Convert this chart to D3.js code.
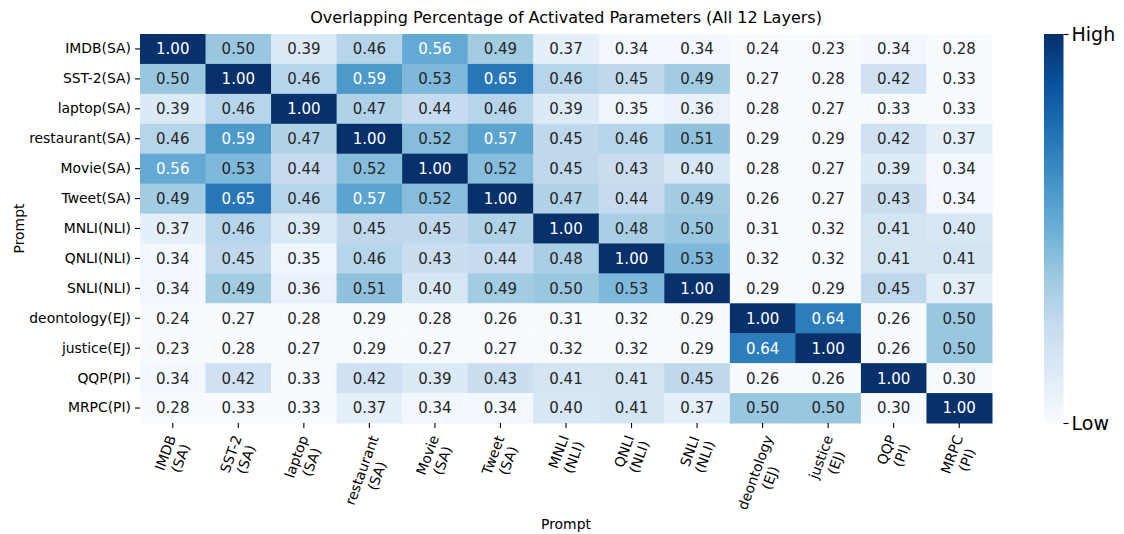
<!DOCTYPE html>
<html>
<head>
<meta charset="utf-8">
<script src="https://cdn.jsdelivr.net/npm/d3@7"></script>
<style>
body { margin: 0; background: #fff; }
text { font-family: "DejaVu Sans", sans-serif; }
</style>
</head>
<body>
<div id="chart"></div>
<script>
// prompts, rows = columns
var rowLabels = ["IMDB(SA)", "SST-2(SA)", "laptop(SA)", "restaurant(SA)", "Movie(SA)", "Tweet(SA)",
	"MNLI(NLI)", "QNLI(NLI)", "SNLI(NLI)", "deontology(EJ)", "justice(EJ)", "QQP(PI)", "MRPC(PI)"];
var colLabels = [["IMDB", "(SA)"], ["SST-2", "(SA)"], ["laptop", "(SA)"], ["restaurant", "(SA)"],
	["Movie", "(SA)"], ["Tweet", "(SA)"], ["MNLI", "(NLI)"], ["QNLI", "(NLI)"], ["SNLI", "(NLI)"],
	["deontology", "(EJ)"], ["justice", "(EJ)"], ["QQP", "(PI)"], ["MRPC", "(PI)"]];

var overlap = [
	[1.00, 0.50, 0.39, 0.46, 0.56, 0.49, 0.37, 0.34, 0.34, 0.24, 0.23, 0.34, 0.28],
	[0.50, 1.00, 0.46, 0.59, 0.53, 0.65, 0.46, 0.45, 0.49, 0.27, 0.28, 0.42, 0.33],
	[0.39, 0.46, 1.00, 0.47, 0.44, 0.46, 0.39, 0.35, 0.36, 0.28, 0.27, 0.33, 0.33],
	[0.46, 0.59, 0.47, 1.00, 0.52, 0.57, 0.45, 0.46, 0.51, 0.29, 0.29, 0.42, 0.37],
	[0.56, 0.53, 0.44, 0.52, 1.00, 0.52, 0.45, 0.43, 0.40, 0.28, 0.27, 0.39, 0.34],
	[0.49, 0.65, 0.46, 0.57, 0.52, 1.00, 0.47, 0.44, 0.49, 0.26, 0.27, 0.43, 0.34],
	[0.37, 0.46, 0.39, 0.45, 0.45, 0.47, 1.00, 0.48, 0.50, 0.31, 0.32, 0.41, 0.40],
	[0.34, 0.45, 0.35, 0.46, 0.43, 0.44, 0.48, 1.00, 0.53, 0.32, 0.32, 0.41, 0.41],
	[0.34, 0.49, 0.36, 0.51, 0.40, 0.49, 0.50, 0.53, 1.00, 0.29, 0.29, 0.45, 0.37],
	[0.24, 0.27, 0.28, 0.29, 0.28, 0.26, 0.31, 0.32, 0.29, 1.00, 0.64, 0.26, 0.50],
	[0.23, 0.28, 0.27, 0.29, 0.27, 0.27, 0.32, 0.32, 0.29, 0.64, 1.00, 0.26, 0.50],
	[0.34, 0.42, 0.33, 0.42, 0.39, 0.43, 0.41, 0.41, 0.45, 0.26, 0.26, 1.00, 0.30],
	[0.28, 0.33, 0.33, 0.37, 0.34, 0.34, 0.40, 0.41, 0.37, 0.50, 0.50, 0.30, 1.00]
];

var barLabels = ["Low", "High"];

(function() {
	var width = 1124;
	var height = 534;
	var left = 140, top = 34, right = 992, bottom = 423;

	var blues = ["#f7fbff", "#deebf7", "#c6dbef", "#9ecae1", "#6baed6", "#4292c6", "#2171b5", "#08519c", "#08306b"];
	var vmin = 0.33, vmax = 0.77;

	var color = d3.scaleLinear()
				  .domain(blues.map(function(c, i) { return vmin + (vmax - vmin) * i / (blues.length - 1); }))
				  .range(blues)
				  .interpolate(d3.interpolateRgb)
				  .clamp(true);

	var svg = d3.select("#chart")
				.append("svg")
				.attr("width", width)
				.attr("height", height);

	var x = d3.scaleBand()
			  .domain(d3.range(colLabels.length))
			  .range([left, right]);

	var y = d3.scaleBand()
			  .domain(rowLabels)
			  .range([top, bottom]);

	var cells = [];
	overlap.forEach(function(row, i) {
		row.forEach(function(v, j) {
			cells.push({ r: rowLabels[i], c: j, v: v });
		});
	});

	function luminance(c) {
		var rgb = d3.rgb(c);
		var lin = [rgb.r, rgb.g, rgb.b].map(function(u) {
			u = u / 255;
			return u <= 0.03928 ? u / 12.92 : Math.pow((u + 0.055) / 1.055, 2.4);
		});
		return 0.2126 * lin[0] + 0.7152 * lin[1] + 0.0722 * lin[2];
	}

	var g = svg.append("g");

	g.selectAll("rect")
	 .data(cells)
	 .enter()
	 .append("rect")
	 .attr("x", function(d) { return x(d.c); })
	 .attr("y", function(d) { return y(d.r); })
	 .attr("width", x.bandwidth() + 0.5)
	 .attr("height", y.bandwidth() + 0.5)
	 .attr("fill", function(d) { return color(d.v); });

	g.selectAll("text.val")
	 .data(cells)
	 .enter()
	 .append("text")
	 .attr("class", "val")
	 .attr("x", function(d) { return x(d.c) + x.bandwidth() / 2; })
	 .attr("y", function(d) { return y(d.r) + y.bandwidth() / 2; })
	 .attr("dy", "0.36em")
	 .attr("text-anchor", "middle")
	 .style("font-size", "15px")
	 .attr("fill", function(d) { return luminance(color(d.v)) > 0.408 ? "#262626" : "#ffffff"; })
	 .text(function(d) { return d.v.toFixed(2); });

	// y axis
	var yAxis = d3.axisLeft(y).tickSize(5).tickPadding(4);
	var ya = svg.append("g")
				.attr("transform", "translate(" + left + ",0)")
				.call(yAxis);
	ya.select(".domain").remove();
	ya.selectAll("line").attr("stroke", "#000").attr("stroke-width", 1.1);
	ya.selectAll("text")
	  .style("font-size", "13.9px")
	  .style("font-family", "DejaVu Sans")
	  .attr("fill", "#000");

	// x axis
	var xAxis = d3.axisBottom(x).tickSize(5).tickFormat("");
	var xa = svg.append("g")
				.attr("transform", "translate(0," + bottom + ")")
				.call(xAxis);
	xa.select(".domain").remove();
	xa.selectAll("line").attr("stroke", "#000").attr("stroke-width", 1.1);

	colLabels.forEach(function(lines, j) {
		var cx = x(j) + x.bandwidth() / 2;
		var lab = svg.append("g");
		var t = lab.append("text")
				   .attr("transform", "rotate(-70)")
				   .attr("text-anchor", "middle")
				   .style("font-size", "13.9px")
				   .attr("fill", "#000");
		lines.forEach(function(s, k) {
			t.append("tspan")
			 .attr("x", 0)
			 .attr("dy", k === 0 ? 0 : "1.15em")
			 .text(s);
		});
		var box = lab.node().getBoundingClientRect();
		var svgBox = svg.node().getBoundingClientRect();
		var bx = box.left - svgBox.left, by = box.top - svgBox.top;
		lab.attr("transform", "translate(" + (cx - (bx + box.width / 2)) + "," + (bottom + 10 - by) + ")");
	});

	// titles
	svg.append("text")
	   .attr("x", (left + right) / 2)
	   .attr("y", 23)
	   .attr("text-anchor", "middle")
	   .style("font-size", "16px")
	   .text("Overlapping Percentage of Activated Parameters (All 12 Layers)");

	svg.append("text")
	   .attr("x", (left + right) / 2)
	   .attr("y", 529)
	   .attr("text-anchor", "middle")
	   .style("font-size", "13.9px")
	   .text("Prompt");

	svg.append("text")
	   .attr("transform", "translate(24," + ((top + bottom) / 2) + ")rotate(-90)")
	   .attr("text-anchor", "middle")
	   .style("font-size", "13.9px")
	   .text("Prompt");

	// colour bar
	var defs = svg.append("defs");
	var grad = defs.append("linearGradient")
				   .attr("id", "cbar")
				   .attr("x1", 0).attr("y1", 1)
				   .attr("x2", 0).attr("y2", 0);
	grad.selectAll("stop")
		.data(blues)
		.enter()
		.append("stop")
		.attr("offset", function(d, i) { return i / (blues.length - 1); })
		.attr("stop-color", function(d) { return d; });

	var cbScale = d3.scaleLinear().domain([0, 1]).range([bottom, top]);

	svg.append("rect")
	   .attr("x", 1044)
	   .attr("y", top)
	   .attr("width", 19.5)
	   .attr("height", bottom - top)
	   .attr("fill", "url(#cbar)");

	var cbAxis = d3.axisRight(cbScale)
				   .tickValues([0, 1])
				   .tickSize(5)
				   .tickPadding(3)
				   .tickFormat(function(d) { return barLabels[d]; });
	var cb = svg.append("g")
				.attr("transform", "translate(1063.5,0)")
				.call(cbAxis);
	cb.select(".domain").remove();
	cb.selectAll("line").attr("stroke", "#000").attr("stroke-width", 1.1);
	cb.selectAll("text")
	  .style("font-size", "19px")
	  .style("font-family", "DejaVu Sans")
	  .attr("fill", "#000");
}());
</script>
</body>
</html>
